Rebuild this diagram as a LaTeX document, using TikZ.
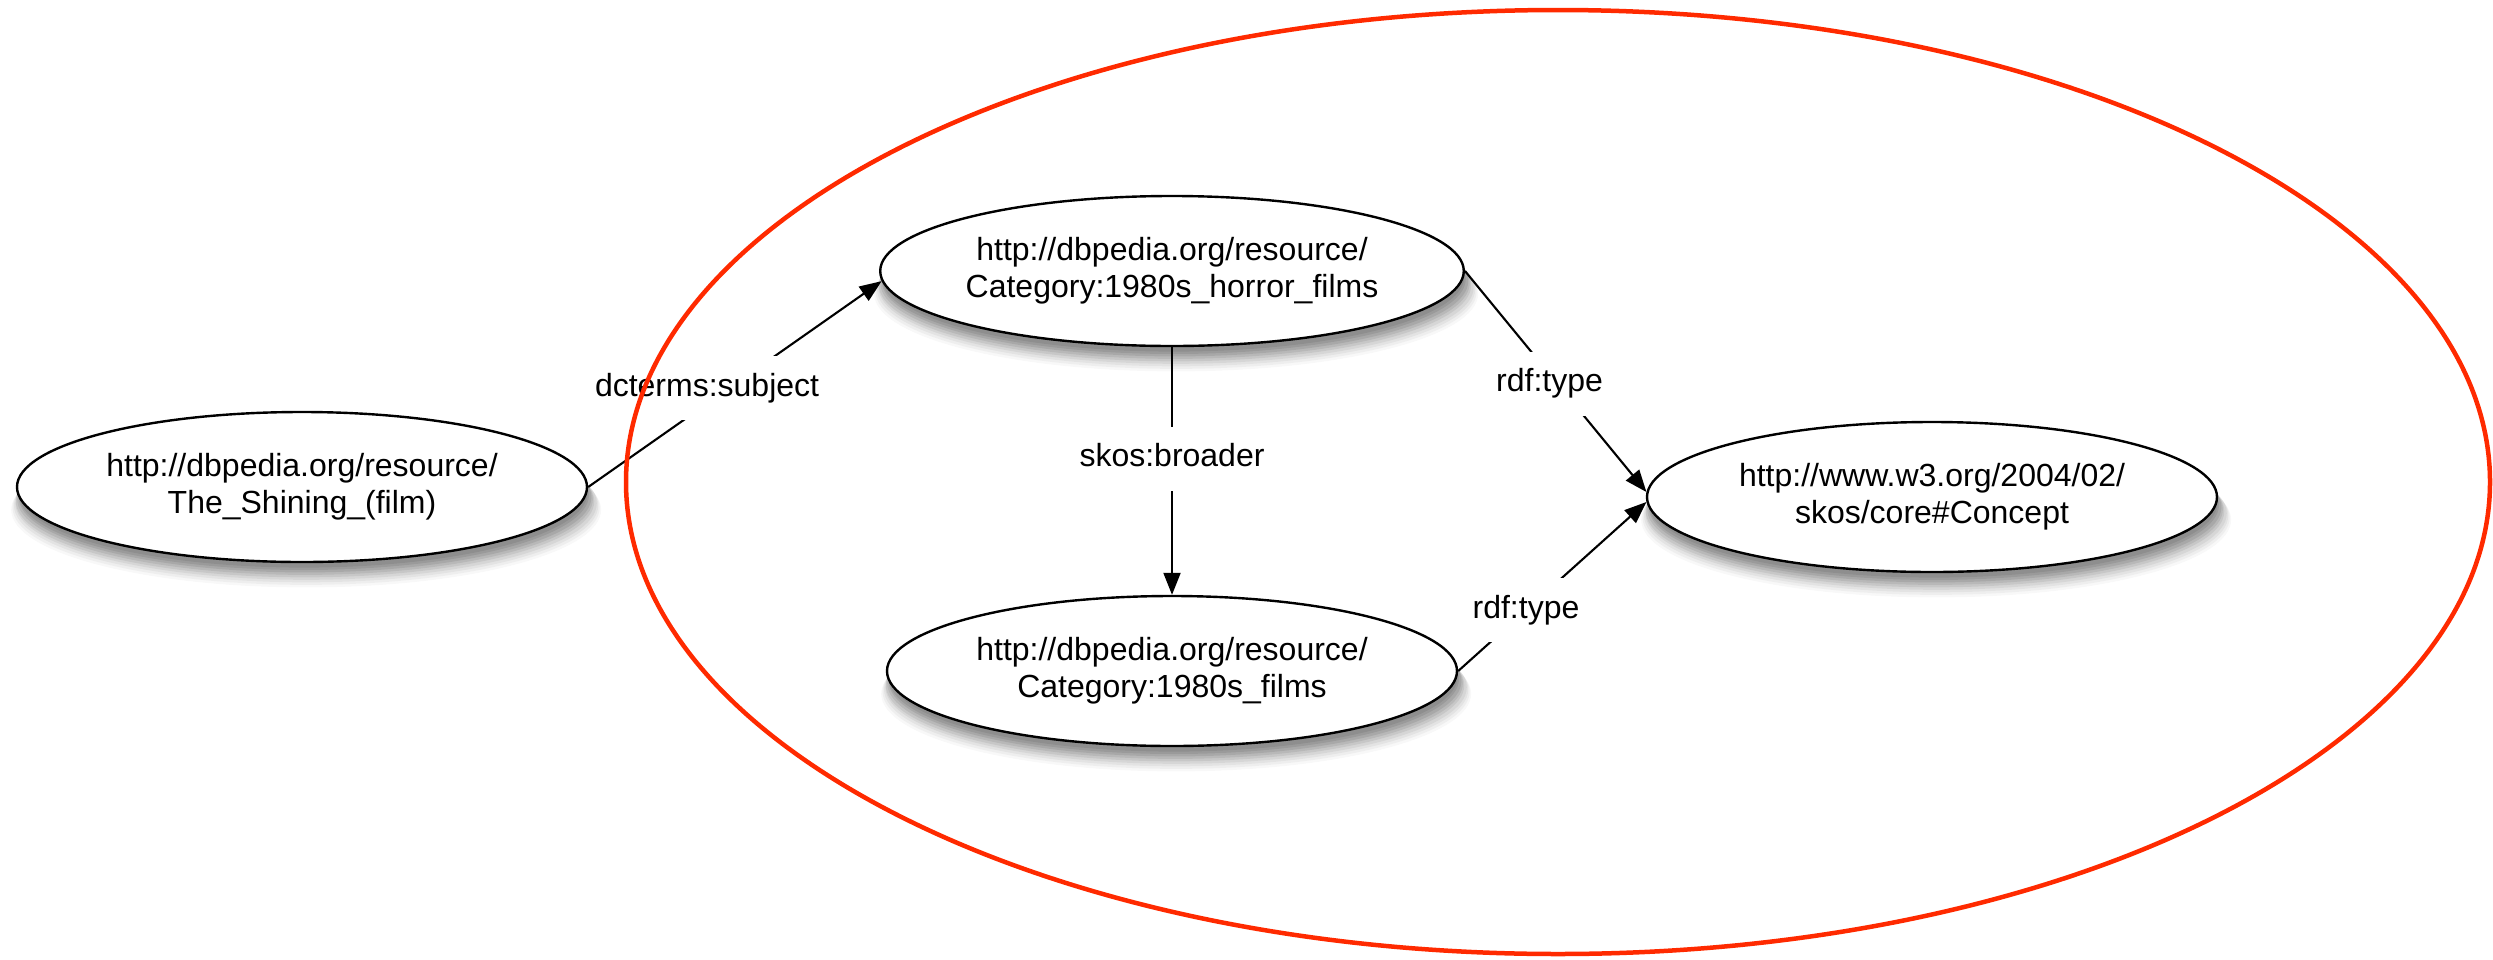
\documentclass[tikz,border=0pt]{standalone}
\usepackage{fontspec}
\setmainfont{Liberation Sans}
\usetikzlibrary{shapes.geometric,arrows.meta,shadows}
\definecolor{ringred}{HTML}{FF2A00}
\tikzset{
  softshadow/.style={
    drop shadow={shadow xshift=4pt, shadow yshift=-22pt, opacity=0.06, shadow scale=1.035},
    drop shadow={shadow xshift=4pt, shadow yshift=-20pt, opacity=0.08, shadow scale=1.03},
    drop shadow={shadow xshift=4pt, shadow yshift=-18pt, opacity=0.10, shadow scale=1.025},
    drop shadow={shadow xshift=4pt, shadow yshift=-16pt, opacity=0.13, shadow scale=1.02},
    drop shadow={shadow xshift=3pt, shadow yshift=-14pt, opacity=0.17, shadow scale=1.015},
    drop shadow={shadow xshift=3pt, shadow yshift=-12pt, opacity=0.22, shadow scale=1.01},
    drop shadow={shadow xshift=3pt, shadow yshift=-10pt, opacity=0.28, shadow scale=1.005},
    drop shadow={shadow xshift=2pt, shadow yshift=-8pt, opacity=0.35},
    drop shadow={shadow xshift=2pt, shadow yshift=-6pt, opacity=0.45, shadow scale=0.995},
  },
  res/.style={ellipse, draw, line width=2.4pt, fill=white, minimum width=570pt,
    minimum height=150pt, inner sep=0pt, align=center,
    font=\fontsize{32pt}{37pt}\selectfont, softshadow},
  edge/.style={line width=2.1pt, -{Triangle[length=22pt,width=17pt]}},
  lbl/.style={fill=white, inner xsep=4pt, inner ysep=17pt, text height=23pt,
    text depth=7pt, font=\fontsize{32pt}{37pt}\selectfont},
}
\begin{document}
\begin{tikzpicture}[x=1pt,y=-1pt]
\useasboundingbox (0,0) rectangle (2493,959);
\node[res] (sh) at (302,487) {http://dbpedia.org/resource/\\The\_Shining\_(film)};
\node[res] (hr) at (1172,271) {http://dbpedia.org/resource/\\Category:1980s\_horror\_films};
\node[res] (fi) at (1172,671) {http://dbpedia.org/resource/\\Category:1980s\_films};
\node[res] (co) at (1932,497) {http://www.w3.org/2004/02/\\skos/core\#Concept};
\draw[edge] (sh.east) -- node[lbl, pos=0.48, xshift=-22pt] {dcterms:subject} (hr.182);
\draw[edge] (hr.south) -- node[lbl, pos=0.45] {skos:broader} (fi.north);
\draw[edge] (hr.east) -- node[lbl, pos=0.51, xshift=-8pt] {rdf:type} (co.179);
\draw[edge] (fi.east) -- node[lbl, pos=0.36] {rdf:type} (co.181);
\draw[ringred, line width=4.5pt] (1558,482) ellipse [x radius=932pt, y radius=472pt];
\end{tikzpicture}
\end{document}
